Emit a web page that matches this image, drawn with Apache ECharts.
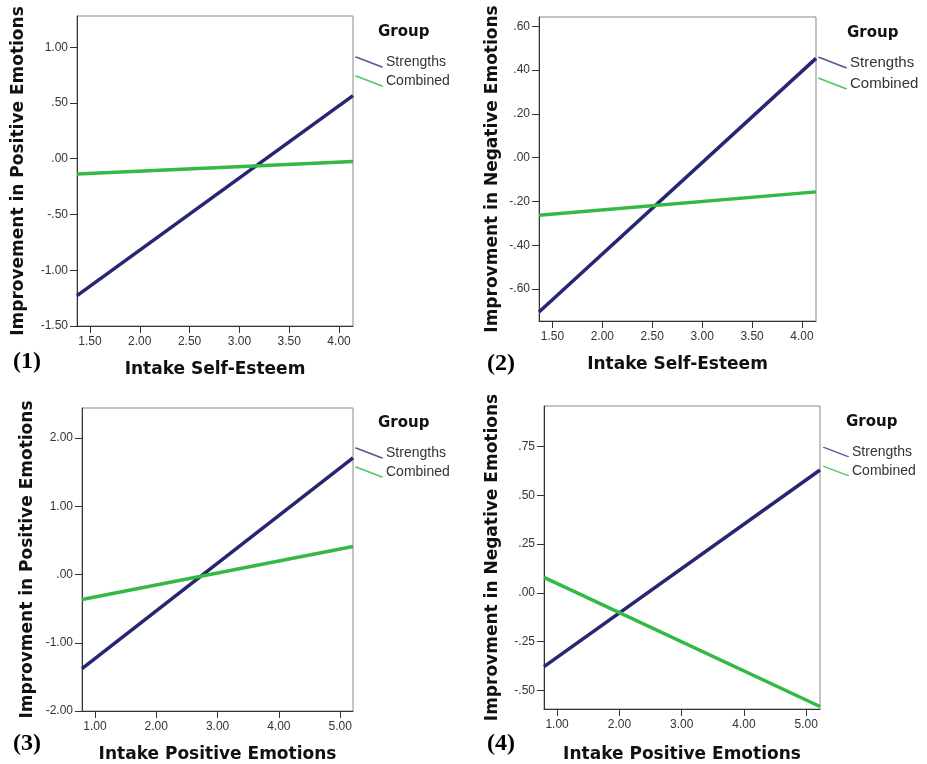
<!DOCTYPE html>
<html>
<head>
<meta charset="utf-8">
<script src="https://cdn.jsdelivr.net/npm/echarts@6/dist/echarts.min.js"></script>
<style>
html,body{margin:0;padding:0;background:#fff;}
#c{width:927px;height:764px;}
</style>
</head>
<body>
<div id="c"></div>
<script>
// ---- data ----
const seriesNames = ['Strengths', 'Combined'];

const p1X = [1.37, 4.14];
const p1Strengths = [-1.227, 0.566];
const p1Combined = [-0.137, -0.024];
const p1XTicks = [1.5, 2.0, 2.5, 3.0, 3.5, 4.0];
const p1YTicks = [-1.5, -1.0, -0.5, 0.0, 0.5, 1.0];

const p2X = [1.366, 4.14];
const p2Strengths = [-0.705, 0.454];
const p2Combined = [-0.263, -0.156];
const p2XTicks = [1.5, 2.0, 2.5, 3.0, 3.5, 4.0];
const p2YTicks = [-0.6, -0.4, -0.2, 0.0, 0.2, 0.4, 0.6];

const p3X = [0.788, 5.21];
const p3Strengths = [-1.38, 1.71];
const p3Combined = [-0.365, 0.41];
const p3XTicks = [1, 2, 3, 4, 5];
const p3YTicks = [-2, -1, 0, 1, 2];

const p4X = [0.79, 5.22];
const p4Strengths = [-0.378, 0.63];
const p4Combined = [0.08, -0.582];
const p4XTicks = [1, 2, 3, 4, 5];
const p4YTicks = [-0.5, -0.25, 0, 0.25, 0.5, 0.75];

const xNames = ['Intake Self-Esteem', 'Intake Self-Esteem', 'Intake Positive Emotions', 'Intake Positive Emotions'];
const yNames = ['Improvement in Positive Emotions', 'Improvment in Negative Emotions', 'Improvment in Positive Emotions', 'Improvment in Negative Emotions'];
const panelLabels = ['(1)', '(2)', '(3)', '(4)'];
const legendTitle = 'Group';

// ---- layout / style ----
const colors = ['#262673', '#33b944'];
const legendColors = ['#5a5a9a', '#55c866'];
const layout = [
  {grid:{left:77, top:16, width:276, height:310}, xr:[1.37,4.14], yr:[-1.5,1.28], xGap:35, yGap:50, leg:{left:355, top:55, w:28, h:11, gap:5, fs:14}, grp:[378,34], lab:[13,364]},
  {grid:{left:539, top:17, width:277, height:304}, xr:[1.366,4.14], yr:[-0.746,0.643], xGap:35, yGap:38, leg:{left:818, top:55, w:29, h:13, gap:6, fs:15}, grp:[847,35], lab:[487,366]},
  {grid:{left:82, top:408, width:271, height:304}, xr:[0.788,5.21], yr:[-2,2.44], xGap:35, yGap:46, leg:{left:355, top:446, w:28, h:11, gap:5, fs:14}, grp:[378,425], lab:[13,746]},
  {grid:{left:544, top:406, width:276, height:303}, xr:[0.79,5.22], yr:[-0.595,0.958], xGap:37, yGap:43, leg:{left:823, top:445, w:26, h:11, gap:5, fs:14}, grp:[846,424], lab:[487,746]}
];
const panels = [
  {x:p1X, s:p1Strengths, c:p1Combined, xt:p1XTicks, yt:p1YTicks},
  {x:p2X, s:p2Strengths, c:p2Combined, xt:p2XTicks, yt:p2YTicks},
  {x:p3X, s:p3Strengths, c:p3Combined, xt:p3XTicks, yt:p3YTicks},
  {x:p4X, s:p4Strengths, c:p4Combined, xt:p4XTicks, yt:p4YTicks}
];

function fmt(v){
  let s = Math.abs(v).toFixed(2);
  if (s.charAt(0) === '0') s = s.slice(1);
  return (v < 0 ? '-' : '') + s;
}

const legendIcon = 'path://M0,0 L2,0 L28,10 L28,11 L26,11 L0,1 Z';
const nameFont = {fontFamily:'DejaVu Sans', fontWeight:'bold', fontSize:17, color:'#111'};
const labelFont = {fontFamily:'Liberation Sans', fontSize:12, color:'#333'};

const option = {
  animation:false,
  backgroundColor:'#fff',
  grid:[], xAxis:[], yAxis:[], series:[], legend:[], graphic:[]
};

panels.forEach((p, i) => {
  const L = layout[i];
  option.grid.push(Object.assign({show:true, borderColor:'#888', borderWidth:1, backgroundColor:'transparent'}, L.grid));
  option.xAxis.push({
    type:'value', gridIndex:i, min:L.xr[0], max:L.xr[1],
    name:xNames[i], nameLocation:'middle', nameGap:L.xGap, nameTextStyle:nameFont,
    axisLine:{show:true, onZero:false, lineStyle:{color:'#333', width:1}},
    axisTick:{show:true, length:7, lineStyle:{color:'#333'}, customValues:p.xt},
    axisLabel:Object.assign({customValues:p.xt, formatter:fmt, margin:10}, labelFont),
    splitLine:{show:false}
  });
  option.yAxis.push({
    type:'value', gridIndex:i, min:L.yr[0], max:L.yr[1],
    name:yNames[i], nameLocation:'middle', nameGap:L.yGap, nameTextStyle:nameFont,
    axisLine:{show:true, onZero:false, lineStyle:{color:'#333', width:1}},
    axisTick:{show:true, length:7, lineStyle:{color:'#333'}, customValues:p.yt},
    axisLabel:Object.assign({customValues:p.yt, formatter:fmt, margin:9}, labelFont),
    splitLine:{show:false}
  });
  [p.s, p.c].forEach((vals, k) => {
    option.series.push({
      type:'line', name:seriesNames[k], xAxisIndex:i, yAxisIndex:i,
      data:p.x.map((xv, j) => [xv, vals[j]]),
      symbol:'none', silent:true,
      color:colors[k],
      lineStyle:{color:colors[k], width:3.5},
      itemStyle:{color:legendColors[k]}
    });
  });
  option.legend.push({
    data:seriesNames.map((n, k) => ({name:n, icon:legendIcon, itemStyle:{color:legendColors[k]}})),
    orient:'vertical', left:L.leg.left, top:L.leg.top, padding:0,
    itemWidth:L.leg.w, itemHeight:L.leg.h, itemGap:L.leg.gap,
    selectedMode:false,
    textStyle:{fontFamily:'Liberation Sans', fontSize:L.leg.fs, color:'#333', lineHeight:L.leg.h, padding:[0,0,0,-2]}
  });
  option.graphic.push({
    type:'text', left:L.grp[0], top:L.grp[1] - 9,
    style:{text:legendTitle, font:'bold 15px "DejaVu Sans"', fill:'#111'}
  });
  option.graphic.push({
    type:'text', left:L.lab[0], top:L.lab[1] - 14,
    style:{text:panelLabels[i], font:'bold 24px "Liberation Serif"', fill:'#000'}
  });
});

const chart = echarts.init(document.getElementById('c'), null, {renderer:'canvas'});
chart.setOption(option);
</script>
</body>
</html>
